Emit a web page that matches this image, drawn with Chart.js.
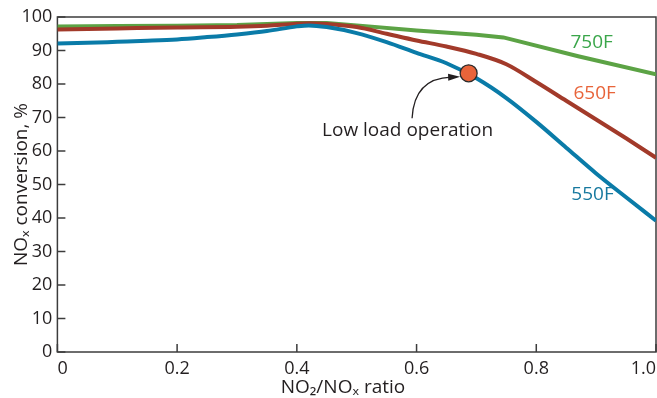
<!DOCTYPE html>
<html>
<head>
<meta charset="utf-8">
<script src="https://cdn.jsdelivr.net/npm/chart.js@4/dist/chart.umd.min.js"></script>
<style>
  html, body { margin: 0; padding: 0; background: #fff; }
  #wrap { width: 657px; height: 398px; }
</style>
</head>
<body>
<div id="wrap"><canvas id="chart" width="657" height="398"></canvas></div>
<script>
// NO2/NOx ratio vs NOx conversion (%) at three temperatures
const ratio550 = [0, 0.05, 0.1, 0.15, 0.2, 0.25, 0.3, 0.35, 0.4, 0.42, 0.45, 0.5, 0.55, 0.6, 0.65, 0.7, 0.75, 0.8, 0.85, 0.9, 0.95, 1.0];
const conv550  = [92.1, 92.3, 92.6, 92.9, 93.3, 94.0, 94.8, 95.8, 97.2, 97.5, 97.0, 95.2, 92.5, 89.3, 86.2, 81.7, 75.8, 68.7, 61.0, 53.3, 46.2, 39.2];

const ratio650 = [0, 0.1, 0.2, 0.3, 0.35, 0.4, 0.42, 0.45, 0.5, 0.55, 0.6, 0.65, 0.7, 0.75, 0.8, 0.85, 0.9, 0.95, 1.0];
const conv650  = [96.3, 96.6, 96.9, 97.1, 97.4, 98.0, 98.1, 97.9, 97.0, 95.0, 93.0, 91.2, 89.0, 85.9, 80.6, 75.0, 69.4, 63.8, 58.0];

const ratio750 = [0, 0.1, 0.2, 0.3, 0.4, 0.45, 0.5, 0.6, 0.7, 0.745, 0.87, 1.0];
const conv750  = [97.2, 97.3, 97.4, 97.6, 98.2, 98.2, 97.5, 96.0, 94.7, 93.9, 88.3, 82.9];

const lowLoad = [{ x: 0.687, y: 83.2 }];

const seriesNames = ['550F', '650F', '750F'];
const xTicks = [0, 0.2, 0.4, 0.6, 0.8, 1.0];
const xTitle = 'NO₂/NOₓ ratio';
const yTitle = 'NOₓ conversion, %';

const FONT = "'Open Sans', 'Noto Sans', 'DejaVu Sans', sans-serif";
const INK = '#231f20';

function pts(xs, ys) {
  return xs.map((x, i) => ({ x: x, y: ys[i] }));
}

// text labels placed in data units next to the curves
const curveLabels = [
  { text: seriesNames[2], x: 0.8925, y: 92.3, color: '#3aa64a' },
  { text: seriesNames[1], x: 0.8975, y: 77.2, color: '#e8643a' },
  { text: seriesNames[0], x: 0.894,  y: 46.9, color: '#17799f' }
];
const noteText = 'Low load operation';
const noteAt = { x: 0.585, y: 66.2 };
const xTitleAt = 0.477;

const decor = {
  id: 'decor',
  beforeDatasetsDraw(chart) {
    const { ctx, chartArea: a, scales: { x, y } } = chart;
    ctx.save();
    ctx.strokeStyle = '#3c3c3c';
    ctx.lineWidth = 1.5;
    ctx.strokeRect(a.left, a.top, a.right - a.left, a.bottom - a.top);
    ctx.beginPath();
    x.ticks.forEach(t => {
      const px = x.getPixelForValue(t.value);
      ctx.moveTo(px, a.bottom);
      ctx.lineTo(px, a.bottom - 8);
    });
    y.ticks.forEach(t => {
      const py = y.getPixelForValue(t.value);
      ctx.moveTo(a.left, py);
      ctx.lineTo(a.left + 8, py);
    });
    ctx.stroke();
    ctx.restore();
  },
  afterDraw(chart) {
    const { ctx, chartArea: a, scales: { x, y } } = chart;
    ctx.save();
    ctx.textAlign = 'center';
    ctx.textBaseline = 'middle';

    // x axis title (sits a little left of centre in the original)
    ctx.font = '19px ' + FONT;
    ctx.fillStyle = INK;
    ctx.fillText(xTitle, x.getPixelForValue(xTitleAt), a.bottom + 36);

    ctx.font = '19px ' + FONT;
    curveLabels.forEach(l => {
      ctx.fillStyle = l.color;
      ctx.fillText(l.text, x.getPixelForValue(l.x), y.getPixelForValue(l.y));
    });

    // annotation text + curved arrow to the marker
    const tx = x.getPixelForValue(noteAt.x);
    const ty = y.getPixelForValue(noteAt.y);
    ctx.font = '19px ' + FONT;
    ctx.fillStyle = INK;
    ctx.fillText(noteText, tx, ty);

    const mx = x.getPixelForValue(lowLoad[0].x);
    const my = y.getPixelForValue(lowLoad[0].y);
    const sx = tx + 4.5, sy = ty - 12;
    const ex = mx - 8.5, ey = my + 3.5;
    const cx = sx + 2, cy = ey + 1.5;
    const ang = Math.atan2(ey - cy, ex - cx);
    ctx.strokeStyle = INK;
    ctx.lineWidth = 1.3;
    ctx.beginPath();
    ctx.moveTo(sx, sy);
    ctx.quadraticCurveTo(cx, cy, ex - 9 * Math.cos(ang), ey - 9 * Math.sin(ang));
    ctx.stroke();
    ctx.fillStyle = INK;
    ctx.beginPath();
    ctx.moveTo(ex, ey);
    ctx.lineTo(ex - 12 * Math.cos(ang) + 3.5 * Math.sin(ang), ey - 12 * Math.sin(ang) - 3.5 * Math.cos(ang));
    ctx.lineTo(ex - 12 * Math.cos(ang) - 3.5 * Math.sin(ang), ey - 12 * Math.sin(ang) + 3.5 * Math.cos(ang));
    ctx.closePath();
    ctx.fill();
    ctx.restore();
  }
};

const ctx = document.getElementById('chart').getContext('2d');
new Chart(ctx, {
  type: 'line',
  data: {
    datasets: [
      {
        type: 'scatter',
        label: noteText,
        data: lowLoad,
        backgroundColor: '#e8643a',
        borderColor: '#2b2b2b',
        borderWidth: 1.3,
        pointRadius: 8.5,
        order: 0
      },
      {
        label: seriesNames[0],
        data: pts(ratio550, conv550),
        borderColor: '#0a7ba8',
        borderWidth: 4,
        pointRadius: 0,
        cubicInterpolationMode: 'monotone',
        order: 1
      },
      {
        label: seriesNames[1],
        data: pts(ratio650, conv650),
        borderColor: '#a23a2a',
        borderWidth: 4,
        pointRadius: 0,
        cubicInterpolationMode: 'monotone',
        order: 2
      },
      {
        label: seriesNames[2],
        data: pts(ratio750, conv750),
        borderColor: '#5ca345',
        borderWidth: 4,
        pointRadius: 0,
        tension: 0,
        order: 3
      }
    ]
  },
  options: {
    responsive: false,
    animation: false,
    layout: { autoPadding: false, padding: { top: 17, right: 1, left: 0, bottom: 0 } },
    plugins: {
      legend: { display: false },
      tooltip: { enabled: false }
    },
    scales: {
      x: {
        type: 'linear',
        min: 0,
        max: 1,
        afterBuildTicks: s => { s.ticks = xTicks.map(v => ({ value: v })); },
        afterFit: s => { s.height = 46; s.paddingLeft = 0; s.paddingRight = 0; },
        grid: { display: false, drawTicks: false },
        border: { display: false },
        ticks: {
          padding: 6,
          align: 'inner',
          color: INK,
          font: { family: FONT, size: 18 },
          maxRotation: 0,
          callback: v => (v === 0 ? '0' : v.toFixed(1))
        },
        title: { display: false }
      },
      y: {
        min: 0,
        max: 100,
        afterFit: s => { s.width = 57.4; s.paddingTop = 0; s.paddingBottom = 0; },
        grid: { display: false, drawTicks: false },
        border: { display: false },
        ticks: {
          stepSize: 10,
          padding: 5,
          color: INK,
          font: { family: FONT, size: 18 }
        },
        title: {
          display: true,
          text: yTitle,
          color: INK,
          font: { family: FONT, size: 19 },
          padding: { top: 10, bottom: 0 }
        }
      }
    }
  },
  plugins: [decor]
});
</script>
</body>
</html>
